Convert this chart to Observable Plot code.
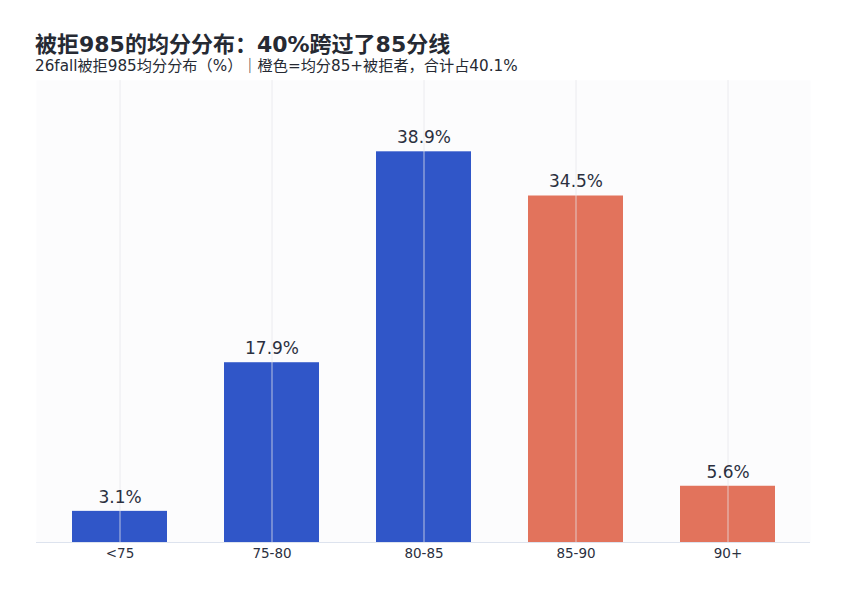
<!DOCTYPE html>
<html>
<head>
<meta charset="utf-8">
<script src="https://cdn.jsdelivr.net/npm/d3@7"></script>
<script src="https://cdn.jsdelivr.net/npm/@observablehq/plot@0.6"></script>
<style>
  html, body { margin: 0; padding: 0; background: #ffffff; }
  body { width: 844px; height: 596px; position: relative; overflow: hidden; font-family: "DejaVu Sans", "Noto Sans CJK SC", sans-serif; }
  #title { position: absolute; left: 35px; top: 34px; font-size: 22px; font-weight: bold; color: #262a33; white-space: nowrap; line-height: 1; }
  #subtitle { position: absolute; left: 35px; top: 59px; font-size: 15.2px; color: #262a33; white-space: nowrap; line-height: 1; }
  #chart { position: absolute; left: 0; top: 76px; }
</style>
</head>
<body>
<div id="title">被拒985的均分分布：40%跨过了85分线</div>
<div id="subtitle">26fall被拒985均分分布（%）｜橙色=均分85+被拒者，合计占40.1%</div>
<div id="chart"></div>
<script>
const categories = ["<75", "75-80", "80-85", "85-90", "90+"];
const values = [3.1, 17.9, 38.9, 34.5, 5.6];
const groups = ["below", "below", "below", "above", "above"];
const labels = ["3.1%", "17.9%", "38.9%", "34.5%", "5.6%"];

const data = categories.map((c, i) => ({ cat: c, value: values[i], group: groups[i], label: labels[i] }));

const chart = Plot.plot({
  width: 844,
  height: 520,
  marginTop: 4,
  marginBottom: 54,
  marginLeft: 36,
  marginRight: 34,
  style: { fontFamily: "DejaVu Sans, sans-serif", background: "transparent" },
  x: { domain: categories, paddingInner: 0.376, paddingOuter: 0.22, label: null, tickSize: 0, tickPadding: 5 },
  y: { domain: [0, 46], axis: null },
  color: { domain: ["below", "above"], range: ["#3056c8", "#e2735c"] },
  marks: [
    Plot.frame({ fill: "#fcfcfd", stroke: null }),
    Plot.barY(data, { x: "cat", y: "value", fill: "group" }),
    Plot.gridX(categories, { stroke: "#e6e6ea", strokeOpacity: 0.75, strokeWidth: 1 }),
    Plot.ruleY([0], { stroke: "#dde3ee", strokeWidth: 1 }),
    Plot.text(data, { x: "cat", y: "value", text: "label", dy: -14, fontSize: 17, fill: "#2b3040" }),
    Plot.axisX({ tickSize: 0, tickPadding: 6, fontSize: 13.5, color: "#2b3040" })
  ]
});
document.getElementById("chart").appendChild(chart);
</script>
</body>
</html>
